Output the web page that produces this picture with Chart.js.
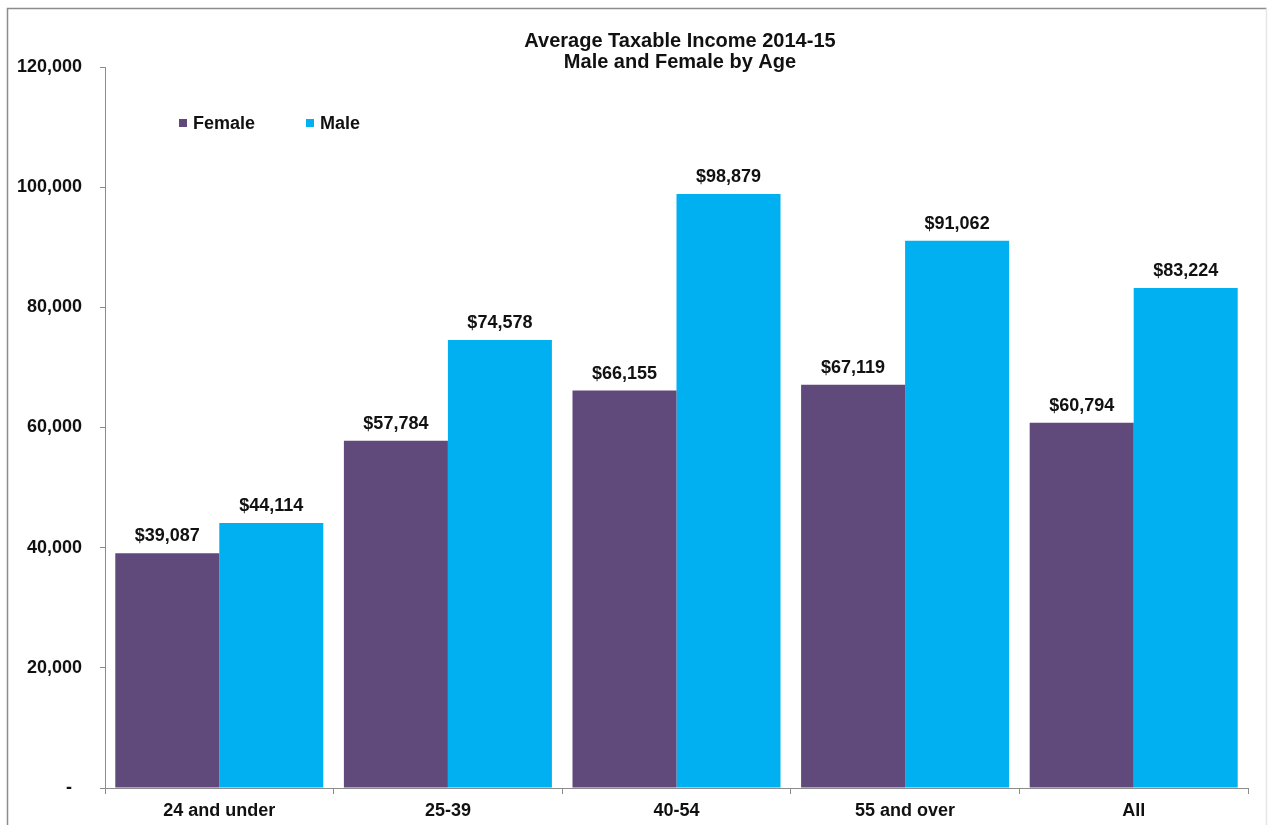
<!DOCTYPE html>
<html>
<head>
<meta charset="utf-8">
<title>Average Taxable Income 2014-15</title>
<script src="https://cdn.jsdelivr.net/npm/chart.js@4.4.1/dist/chart.umd.min.js"></script>
<style>
  html, body { margin: 0; padding: 0; background: #fff; overflow: hidden; }
  #wrap { position: relative; width: 1269px; height: 825px; }
</style>
</head>
<body>
<div id="wrap"><canvas id="incomeChart" width="1269" height="825"></canvas></div>
<script>
const ageGroups = ['24 and under', '25-39', '40-54', '55 and over', 'All'];
const femaleIncome = [39087, 57784, 66155, 67119, 60794];
const maleIncome = [44114, 74578, 98879, 91062, 83224];
const titleLines = ['Average Taxable Income 2014-15', 'Male and Female by Age'];

const FONT = '"Liberation Sans", Arial, sans-serif';
const INK = '#111';
const AXIS = '#8c8c8c';

/**
 * Frame, title, legend and value labels drawn straight on the canvas.
 */
const decorations = {
  id: 'decorations',
  beforeDraw(chart) {
    const ctx = chart.ctx;
    ctx.save();
    ctx.strokeStyle = AXIS;
    ctx.lineWidth = 1.5;
    ctx.beginPath();
    ctx.moveTo(7.5, 900);
    ctx.lineTo(7.5, 8.5);
    ctx.lineTo(1266.5, 8.5);
    ctx.stroke();
    ctx.strokeStyle = '#e6e6e6';
    ctx.beginPath();
    ctx.moveTo(1266.5, 8.5);
    ctx.lineTo(1266.5, 900);
    ctx.stroke();
    ctx.restore();
  },
  afterDatasetsDraw(chart) {
    const ctx = chart.ctx;
    ctx.save();
    ctx.fillStyle = INK;

    // title
    ctx.font = 'bold 20px ' + FONT;
    ctx.textAlign = 'center';
    ctx.textBaseline = 'alphabetic';
    ctx.fillText(titleLines[0], 680, 47);
    ctx.fillText(titleLines[1], 680, 68);

    // legend
    ctx.font = 'bold 18px ' + FONT;
    ctx.textAlign = 'left';
    ctx.textBaseline = 'middle';
    let x = 179;
    chart.data.datasets.forEach(ds => {
      ctx.fillStyle = ds.backgroundColor;
      ctx.fillRect(x, 119, 8, 8);
      ctx.fillStyle = INK;
      ctx.fillText(ds.label, x + 14, 124);
      x += 127;
    });

    // value labels above each bar
    ctx.textAlign = 'center';
    ctx.textBaseline = 'alphabetic';
    chart.data.datasets.forEach((ds, i) => {
      chart.getDatasetMeta(i).data.forEach((bar, j) => {
        ctx.fillText('$' + ds.data[j].toLocaleString('en-US'), bar.x, bar.y - 12);
      });
    });
    ctx.restore();
  }
};

const ctx = document.getElementById('incomeChart').getContext('2d');
new Chart(ctx, {
  type: 'bar',
  data: {
    labels: ageGroups,
    datasets: [
      { label: 'Female', data: femaleIncome, backgroundColor: '#604a7b' },
      { label: 'Male', data: maleIncome, backgroundColor: '#00b0f0' }
    ]
  },
  options: {
    responsive: false,
    animation: false,
    datasets: {
      bar: { categoryPercentage: 0.91, barPercentage: 1.0, borderWidth: 0 }
    },
    layout: { padding: { top: 67, right: 21, bottom: 0, left: 0 } },
    plugins: {
      legend: { display: false },
      title: { display: false },
      tooltip: { enabled: false }
    },
    scales: {
      x: {
        grid: { display: true, drawOnChartArea: false, drawTicks: true, tickLength: 6, color: AXIS },
        border: { display: true, color: AXIS, width: 1 },
        ticks: { color: INK, font: { family: FONT, size: 18, weight: 'bold' }, padding: 6 },
        afterFit: scale => { scale.height = 37; }
      },
      y: {
        min: 0,
        max: 120000,
        grid: { display: true, drawOnChartArea: false, drawTicks: true, tickLength: 5, color: AXIS },
        border: { display: true, color: AXIS, width: 1 },
        ticks: {
          stepSize: 20000,
          padding: 18,
          color: INK,
          font: { family: FONT, size: 18, weight: 'bold' },
          callback: v => v === 0 ? '-  ' : v.toLocaleString('en-US')
        },
        afterFit: scale => { scale.width = 105; }
      }
    }
  },
  plugins: [decorations]
});
</script>
</body>
</html>
